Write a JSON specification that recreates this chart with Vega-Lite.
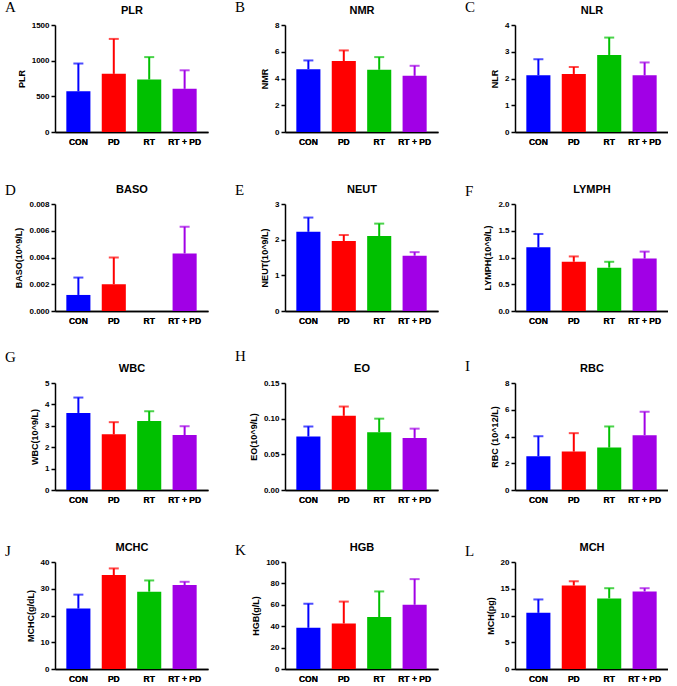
{
"$schema":"https://vega.github.io/schema/vega-lite/v6.json",
"padding":{"left":5,"top":0,"right":0,"bottom":0},
"background":"white",
"datasets":{"d":[
{"panel":"PLR","group":"CON","mean":570,"upper":960},
{"panel":"PLR","group":"PD","mean":815,"upper":1305},
{"panel":"PLR","group":"RT","mean":735,"upper":1050},
{"panel":"PLR","group":"RT + PD","mean":605,"upper":865},
{"panel":"NMR","group":"CON","mean":4.7,"upper":5.35},
{"panel":"NMR","group":"PD","mean":5.3,"upper":6.1},
{"panel":"NMR","group":"RT","mean":4.65,"upper":5.6},
{"panel":"NMR","group":"RT + PD","mean":4.2,"upper":4.95},
{"panel":"NLR","group":"CON","mean":2.12,"upper":2.72},
{"panel":"NLR","group":"PD","mean":2.17,"upper":2.43},
{"panel":"NLR","group":"RT","mean":2.88,"upper":3.53},
{"panel":"NLR","group":"RT + PD","mean":2.12,"upper":2.6},
{"panel":"BASO","group":"CON","mean":0.0012,"upper":0.0025},
{"panel":"BASO","group":"PD","mean":0.002,"upper":0.004},
{"panel":"BASO","group":"RT","mean":0},
{"panel":"BASO","group":"RT + PD","mean":0.0043,"upper":0.0063},
{"panel":"NEUT","group":"CON","mean":2.22,"upper":2.62},
{"panel":"NEUT","group":"PD","mean":1.96,"upper":2.13},
{"panel":"NEUT","group":"RT","mean":2.1,"upper":2.45},
{"panel":"NEUT","group":"RT + PD","mean":1.55,"upper":1.65},
{"panel":"LYMPH","group":"CON","mean":1.19,"upper":1.44},
{"panel":"LYMPH","group":"PD","mean":0.92,"upper":1.02},
{"panel":"LYMPH","group":"RT","mean":0.81,"upper":0.92},
{"panel":"LYMPH","group":"RT + PD","mean":0.98,"upper":1.11},
{"panel":"WBC","group":"CON","mean":3.6,"upper":4.32},
{"panel":"WBC","group":"PD","mean":2.6,"upper":3.17},
{"panel":"WBC","group":"RT","mean":3.22,"upper":3.68},
{"panel":"WBC","group":"RT + PD","mean":2.57,"upper":2.98},
{"panel":"EO","group":"CON","mean":0.075,"upper":0.089},
{"panel":"EO","group":"PD","mean":0.104,"upper":0.117},
{"panel":"EO","group":"RT","mean":0.081,"upper":0.1},
{"panel":"EO","group":"RT + PD","mean":0.073,"upper":0.086},
{"panel":"RBC","group":"CON","mean":2.52,"upper":4.02},
{"panel":"RBC","group":"PD","mean":2.87,"upper":4.25},
{"panel":"RBC","group":"RT","mean":3.17,"upper":4.75},
{"panel":"RBC","group":"RT + PD","mean":4.1,"upper":5.85},
{"panel":"MCHC","group":"CON","mean":22.6,"upper":27.8},
{"panel":"MCHC","group":"PD","mean":35.1,"upper":37.6},
{"panel":"MCHC","group":"RT","mean":28.9,"upper":33.1},
{"panel":"MCHC","group":"RT + PD","mean":31.4,"upper":32.6},
{"panel":"HGB","group":"CON","mean":38.5,"upper":61},
{"panel":"HGB","group":"PD","mean":42.5,"upper":63},
{"panel":"HGB","group":"RT","mean":48.5,"upper":72.5},
{"panel":"HGB","group":"RT + PD","mean":60,"upper":84},
{"panel":"MCH","group":"CON","mean":10.5,"upper":13},
{"panel":"MCH","group":"PD","mean":15.6,"upper":16.4},
{"panel":"MCH","group":"RT","mean":13.2,"upper":15.1},
{"panel":"MCH","group":"RT + PD","mean":14.5,"upper":15.1}
]},
"columns":3,
"spacing":{"row":72,"column":77},
"bounds":"flush",
"concat":[
{"width":153,"height":107,"data":{"name":"d"},"transform":[{"filter":"datum.panel==='PLR'"}],"title":{"text":"A","dy":15},
"encoding":{"x":{"field":"group","type":"nominal","scale":{"domain":["CON","PD","RT","RT + PD"],"paddingInner":0.32,"paddingOuter":0.32},"axis":{"title":null}},"color":{"field":"group","type":"nominal","scale":{"domain":["CON","PD","RT","RT + PD"],"range":["#0000ff","#ff0000","#00c000","#a100e6"]},"legend":null}},
"layer":[
{"mark":"bar","encoding":{"y":{"field":"mean","type":"quantitative","scale":{"domain":[0,1500],"nice":false},"axis":{"values":[0,500,1000,1500],"format":"d","labelOverlap":false,"title":"PLR"}}}},
{"mark":{"type":"rule","strokeWidth":2},"encoding":{"x":{"field":"group","type":"nominal","axis":{"orient":"top","title":"PLR","labels":false,"ticks":false,"domain":false,"titleFontSize":11,"titlePadding":10}},"y":{"field":"mean","type":"quantitative","axis":{"values":[0,500,1000,1500],"format":"d","labelOverlap":false,"title":"PLR"}},"y2":{"field":"upper"}}},
{"mark":{"type":"tick","thickness":2,"size":10},"encoding":{"y":{"field":"upper","type":"quantitative","axis":{"values":[0,500,1000,1500],"format":"d","labelOverlap":false,"title":"PLR"}}}}
],"resolve":{"axis":{"x":"independent"}}},
{"width":153,"height":107,"data":{"name":"d"},"transform":[{"filter":"datum.panel==='NMR'"}],"title":{"text":"B","dy":15},
"encoding":{"x":{"field":"group","type":"nominal","scale":{"domain":["CON","PD","RT","RT + PD"],"paddingInner":0.32,"paddingOuter":0.32},"axis":{"title":null}},"color":{"field":"group","type":"nominal","scale":{"domain":["CON","PD","RT","RT + PD"],"range":["#0000ff","#ff0000","#00c000","#a100e6"]},"legend":null}},
"layer":[
{"mark":"bar","encoding":{"y":{"field":"mean","type":"quantitative","scale":{"domain":[0,8],"nice":false},"axis":{"values":[0,2,4,6,8],"labelOverlap":false,"title":"NMR"}}}},
{"mark":{"type":"rule","strokeWidth":2},"encoding":{"x":{"field":"group","type":"nominal","axis":{"orient":"top","title":"NMR","labels":false,"ticks":false,"domain":false,"titleFontSize":11,"titlePadding":10}},"y":{"field":"mean","type":"quantitative","axis":{"values":[0,2,4,6,8],"labelOverlap":false,"title":"NMR"}},"y2":{"field":"upper"}}},
{"mark":{"type":"tick","thickness":2,"size":10},"encoding":{"y":{"field":"upper","type":"quantitative","axis":{"values":[0,2,4,6,8],"labelOverlap":false,"title":"NMR"}}}}
],"resolve":{"axis":{"x":"independent"}}},
{"width":153,"height":107,"data":{"name":"d"},"transform":[{"filter":"datum.panel==='NLR'"}],"title":{"text":"C","dy":15},
"encoding":{"x":{"field":"group","type":"nominal","scale":{"domain":["CON","PD","RT","RT + PD"],"paddingInner":0.32,"paddingOuter":0.32},"axis":{"title":null}},"color":{"field":"group","type":"nominal","scale":{"domain":["CON","PD","RT","RT + PD"],"range":["#0000ff","#ff0000","#00c000","#a100e6"]},"legend":null}},
"layer":[
{"mark":"bar","encoding":{"y":{"field":"mean","type":"quantitative","scale":{"domain":[0,4],"nice":false},"axis":{"values":[0,1,2,3,4],"labelOverlap":false,"title":"NLR"}}}},
{"mark":{"type":"rule","strokeWidth":2},"encoding":{"x":{"field":"group","type":"nominal","axis":{"orient":"top","title":"NLR","labels":false,"ticks":false,"domain":false,"titleFontSize":11,"titlePadding":10}},"y":{"field":"mean","type":"quantitative","axis":{"values":[0,1,2,3,4],"labelOverlap":false,"title":"NLR"}},"y2":{"field":"upper"}}},
{"mark":{"type":"tick","thickness":2,"size":10},"encoding":{"y":{"field":"upper","type":"quantitative","axis":{"values":[0,1,2,3,4],"labelOverlap":false,"title":"NLR"}}}}
],"resolve":{"axis":{"x":"independent"}}},
{"width":153,"height":107,"data":{"name":"d"},"transform":[{"filter":"datum.panel==='BASO'"}],"title":{"text":"D","dy":19},
"encoding":{"x":{"field":"group","type":"nominal","scale":{"domain":["CON","PD","RT","RT + PD"],"paddingInner":0.32,"paddingOuter":0.32},"axis":{"title":null}},"color":{"field":"group","type":"nominal","scale":{"domain":["CON","PD","RT","RT + PD"],"range":["#0000ff","#ff0000","#00c000","#a100e6"]},"legend":null}},
"layer":[
{"mark":"bar","encoding":{"y":{"field":"mean","type":"quantitative","scale":{"domain":[0,0.008],"nice":false},"axis":{"values":[0,0.002,0.004,0.006,0.008],"format":".3f","labelOverlap":false,"title":"BASO(10^9/L)"}}}},
{"mark":{"type":"rule","strokeWidth":2},"encoding":{"x":{"field":"group","type":"nominal","axis":{"orient":"top","title":"BASO","labels":false,"ticks":false,"domain":false,"titleFontSize":11,"titlePadding":10}},"y":{"field":"mean","type":"quantitative","axis":{"values":[0,0.002,0.004,0.006,0.008],"format":".3f","labelOverlap":false,"title":"BASO(10^9/L)"}},"y2":{"field":"upper"}}},
{"mark":{"type":"tick","thickness":2,"size":10},"encoding":{"y":{"field":"upper","type":"quantitative","axis":{"values":[0,0.002,0.004,0.006,0.008],"format":".3f","labelOverlap":false,"title":"BASO(10^9/L)"}}}}
],"resolve":{"axis":{"x":"independent"}}},
{"width":153,"height":107,"data":{"name":"d"},"transform":[{"filter":"datum.panel==='NEUT'"}],"title":{"text":"E","dy":19},
"encoding":{"x":{"field":"group","type":"nominal","scale":{"domain":["CON","PD","RT","RT + PD"],"paddingInner":0.32,"paddingOuter":0.32},"axis":{"title":null}},"color":{"field":"group","type":"nominal","scale":{"domain":["CON","PD","RT","RT + PD"],"range":["#0000ff","#ff0000","#00c000","#a100e6"]},"legend":null}},
"layer":[
{"mark":"bar","encoding":{"y":{"field":"mean","type":"quantitative","scale":{"domain":[0,3],"nice":false},"axis":{"values":[0,1,2,3],"labelOverlap":false,"title":"NEUT(10^9/L)"}}}},
{"mark":{"type":"rule","strokeWidth":2},"encoding":{"x":{"field":"group","type":"nominal","axis":{"orient":"top","title":"NEUT","labels":false,"ticks":false,"domain":false,"titleFontSize":11,"titlePadding":10}},"y":{"field":"mean","type":"quantitative","axis":{"values":[0,1,2,3],"labelOverlap":false,"title":"NEUT(10^9/L)"}},"y2":{"field":"upper"}}},
{"mark":{"type":"tick","thickness":2,"size":10},"encoding":{"y":{"field":"upper","type":"quantitative","axis":{"values":[0,1,2,3],"labelOverlap":false,"title":"NEUT(10^9/L)"}}}}
],"resolve":{"axis":{"x":"independent"}}},
{"width":153,"height":107,"data":{"name":"d"},"transform":[{"filter":"datum.panel==='LYMPH'"}],"title":{"text":"F","dy":20},
"encoding":{"x":{"field":"group","type":"nominal","scale":{"domain":["CON","PD","RT","RT + PD"],"paddingInner":0.32,"paddingOuter":0.32},"axis":{"title":null}},"color":{"field":"group","type":"nominal","scale":{"domain":["CON","PD","RT","RT + PD"],"range":["#0000ff","#ff0000","#00c000","#a100e6"]},"legend":null}},
"layer":[
{"mark":"bar","encoding":{"y":{"field":"mean","type":"quantitative","scale":{"domain":[0,2],"nice":false},"axis":{"values":[0,0.5,1,1.5,2],"format":".1f","labelOverlap":false,"title":"LYMPH(10^9/L)"}}}},
{"mark":{"type":"rule","strokeWidth":2},"encoding":{"x":{"field":"group","type":"nominal","axis":{"orient":"top","title":"LYMPH","labels":false,"ticks":false,"domain":false,"titleFontSize":11,"titlePadding":10}},"y":{"field":"mean","type":"quantitative","axis":{"values":[0,0.5,1,1.5,2],"format":".1f","labelOverlap":false,"title":"LYMPH(10^9/L)"}},"y2":{"field":"upper"}}},
{"mark":{"type":"tick","thickness":2,"size":10},"encoding":{"y":{"field":"upper","type":"quantitative","axis":{"values":[0,0.5,1,1.5,2],"format":".1f","labelOverlap":false,"title":"LYMPH(10^9/L)"}}}}
],"resolve":{"axis":{"x":"independent"}}},
{"width":153,"height":107,"data":{"name":"d"},"transform":[{"filter":"datum.panel==='WBC'"}],"title":{"text":"G","dy":7},
"encoding":{"x":{"field":"group","type":"nominal","scale":{"domain":["CON","PD","RT","RT + PD"],"paddingInner":0.32,"paddingOuter":0.32},"axis":{"title":null}},"color":{"field":"group","type":"nominal","scale":{"domain":["CON","PD","RT","RT + PD"],"range":["#0000ff","#ff0000","#00c000","#a100e6"]},"legend":null}},
"layer":[
{"mark":"bar","encoding":{"y":{"field":"mean","type":"quantitative","scale":{"domain":[0,5],"nice":false},"axis":{"values":[0,1,2,3,4,5],"labelOverlap":false,"title":"WBC(10^9/L)"}}}},
{"mark":{"type":"rule","strokeWidth":2},"encoding":{"x":{"field":"group","type":"nominal","axis":{"orient":"top","title":"WBC","labels":false,"ticks":false,"domain":false,"titleFontSize":11,"titlePadding":10}},"y":{"field":"mean","type":"quantitative","axis":{"values":[0,1,2,3,4,5],"labelOverlap":false,"title":"WBC(10^9/L)"}},"y2":{"field":"upper"}}},
{"mark":{"type":"tick","thickness":2,"size":10},"encoding":{"y":{"field":"upper","type":"quantitative","axis":{"values":[0,1,2,3,4,5],"labelOverlap":false,"title":"WBC(10^9/L)"}}}}
],"resolve":{"axis":{"x":"independent"}}},
{"width":153,"height":107,"data":{"name":"d"},"transform":[{"filter":"datum.panel==='EO'"}],"title":{"text":"H","dy":6},
"encoding":{"x":{"field":"group","type":"nominal","scale":{"domain":["CON","PD","RT","RT + PD"],"paddingInner":0.32,"paddingOuter":0.32},"axis":{"title":null}},"color":{"field":"group","type":"nominal","scale":{"domain":["CON","PD","RT","RT + PD"],"range":["#0000ff","#ff0000","#00c000","#a100e6"]},"legend":null}},
"layer":[
{"mark":"bar","encoding":{"y":{"field":"mean","type":"quantitative","scale":{"domain":[0,0.15],"nice":false},"axis":{"values":[0,0.05,0.1,0.15],"format":".2f","labelOverlap":false,"title":"EO(10^9/L)"}}}},
{"mark":{"type":"rule","strokeWidth":2},"encoding":{"x":{"field":"group","type":"nominal","axis":{"orient":"top","title":"EO","labels":false,"ticks":false,"domain":false,"titleFontSize":11,"titlePadding":10}},"y":{"field":"mean","type":"quantitative","axis":{"values":[0,0.05,0.1,0.15],"format":".2f","labelOverlap":false,"title":"EO(10^9/L)"}},"y2":{"field":"upper"}}},
{"mark":{"type":"tick","thickness":2,"size":10},"encoding":{"y":{"field":"upper","type":"quantitative","axis":{"values":[0,0.05,0.1,0.15],"format":".2f","labelOverlap":false,"title":"EO(10^9/L)"}}}}
],"resolve":{"axis":{"x":"independent"}}},
{"width":153,"height":107,"data":{"name":"d"},"transform":[{"filter":"datum.panel==='RBC'"}],"title":{"text":"I","dy":16},
"encoding":{"x":{"field":"group","type":"nominal","scale":{"domain":["CON","PD","RT","RT + PD"],"paddingInner":0.32,"paddingOuter":0.32},"axis":{"title":null}},"color":{"field":"group","type":"nominal","scale":{"domain":["CON","PD","RT","RT + PD"],"range":["#0000ff","#ff0000","#00c000","#a100e6"]},"legend":null}},
"layer":[
{"mark":"bar","encoding":{"y":{"field":"mean","type":"quantitative","scale":{"domain":[0,8],"nice":false},"axis":{"values":[0,2,4,6,8],"labelOverlap":false,"title":"RBC (10^12/L)"}}}},
{"mark":{"type":"rule","strokeWidth":2},"encoding":{"x":{"field":"group","type":"nominal","axis":{"orient":"top","title":"RBC","labels":false,"ticks":false,"domain":false,"titleFontSize":11,"titlePadding":10}},"y":{"field":"mean","type":"quantitative","axis":{"values":[0,2,4,6,8],"labelOverlap":false,"title":"RBC (10^12/L)"}},"y2":{"field":"upper"}}},
{"mark":{"type":"tick","thickness":2,"size":10},"encoding":{"y":{"field":"upper","type":"quantitative","axis":{"values":[0,2,4,6,8],"labelOverlap":false,"title":"RBC (10^12/L)"}}}}
],"resolve":{"axis":{"x":"independent"}}},
{"width":153,"height":107,"data":{"name":"d"},"transform":[{"filter":"datum.panel==='MCHC'"}],"title":{"text":"J","dy":22},
"encoding":{"x":{"field":"group","type":"nominal","scale":{"domain":["CON","PD","RT","RT + PD"],"paddingInner":0.32,"paddingOuter":0.32},"axis":{"title":null}},"color":{"field":"group","type":"nominal","scale":{"domain":["CON","PD","RT","RT + PD"],"range":["#0000ff","#ff0000","#00c000","#a100e6"]},"legend":null}},
"layer":[
{"mark":"bar","encoding":{"y":{"field":"mean","type":"quantitative","scale":{"domain":[0,40],"nice":false},"axis":{"values":[0,10,20,30,40],"labelOverlap":false,"title":"MCHC(g/dL)"}}}},
{"mark":{"type":"rule","strokeWidth":2},"encoding":{"x":{"field":"group","type":"nominal","axis":{"orient":"top","title":"MCHC","labels":false,"ticks":false,"domain":false,"titleFontSize":11,"titlePadding":10}},"y":{"field":"mean","type":"quantitative","axis":{"values":[0,10,20,30,40],"labelOverlap":false,"title":"MCHC(g/dL)"}},"y2":{"field":"upper"}}},
{"mark":{"type":"tick","thickness":2,"size":10},"encoding":{"y":{"field":"upper","type":"quantitative","axis":{"values":[0,10,20,30,40],"labelOverlap":false,"title":"MCHC(g/dL)"}}}}
],"resolve":{"axis":{"x":"independent"}}},
{"width":153,"height":107,"data":{"name":"d"},"transform":[{"filter":"datum.panel==='HGB'"}],"title":{"text":"K","dy":21},
"encoding":{"x":{"field":"group","type":"nominal","scale":{"domain":["CON","PD","RT","RT + PD"],"paddingInner":0.32,"paddingOuter":0.32},"axis":{"title":null}},"color":{"field":"group","type":"nominal","scale":{"domain":["CON","PD","RT","RT + PD"],"range":["#0000ff","#ff0000","#00c000","#a100e6"]},"legend":null}},
"layer":[
{"mark":"bar","encoding":{"y":{"field":"mean","type":"quantitative","scale":{"domain":[0,100],"nice":false},"axis":{"values":[0,20,40,60,80,100],"labelOverlap":false,"title":"HGB(g/L)"}}}},
{"mark":{"type":"rule","strokeWidth":2},"encoding":{"x":{"field":"group","type":"nominal","axis":{"orient":"top","title":"HGB","labels":false,"ticks":false,"domain":false,"titleFontSize":11,"titlePadding":10}},"y":{"field":"mean","type":"quantitative","axis":{"values":[0,20,40,60,80,100],"labelOverlap":false,"title":"HGB(g/L)"}},"y2":{"field":"upper"}}},
{"mark":{"type":"tick","thickness":2,"size":10},"encoding":{"y":{"field":"upper","type":"quantitative","axis":{"values":[0,20,40,60,80,100],"labelOverlap":false,"title":"HGB(g/L)"}}}}
],"resolve":{"axis":{"x":"independent"}}},
{"width":153,"height":107,"data":{"name":"d"},"transform":[{"filter":"datum.panel==='MCH'"}],"title":{"text":"L","dy":22},
"encoding":{"x":{"field":"group","type":"nominal","scale":{"domain":["CON","PD","RT","RT + PD"],"paddingInner":0.32,"paddingOuter":0.32},"axis":{"title":null}},"color":{"field":"group","type":"nominal","scale":{"domain":["CON","PD","RT","RT + PD"],"range":["#0000ff","#ff0000","#00c000","#a100e6"]},"legend":null}},
"layer":[
{"mark":"bar","encoding":{"y":{"field":"mean","type":"quantitative","scale":{"domain":[0,20],"nice":false},"axis":{"values":[0,5,10,15,20],"labelOverlap":false,"title":"MCH(pg)"}}}},
{"mark":{"type":"rule","strokeWidth":2},"encoding":{"x":{"field":"group","type":"nominal","axis":{"orient":"top","title":"MCH","labels":false,"ticks":false,"domain":false,"titleFontSize":11,"titlePadding":10}},"y":{"field":"mean","type":"quantitative","axis":{"values":[0,5,10,15,20],"labelOverlap":false,"title":"MCH(pg)"}},"y2":{"field":"upper"}}},
{"mark":{"type":"tick","thickness":2,"size":10},"encoding":{"y":{"field":"upper","type":"quantitative","axis":{"values":[0,5,10,15,20],"labelOverlap":false,"title":"MCH(pg)"}}}}
],"resolve":{"axis":{"x":"independent"}}}
],
"config":{
"view":{"stroke":null},
"font":"Liberation Sans",
"axis":{"grid":false,"domainColor":"black","domainWidth":1.5,"tickColor":"black","tickWidth":1.5,"tickSize":4,"labelFont":"Liberation Sans","labelFontWeight":"bold","labelFontSize":8,"labelColor":"black","labelPadding":2,"titleFont":"Liberation Sans","titleFontWeight":"bold","titleFontSize":9,"titleColor":"black","titlePadding":5},
"axisBottom":{"labelAngle":0,"ticks":false,"labelPadding":5,"labelFontSize":8.5},
"title":{"font":"Liberation Serif","fontWeight":"normal","fontSize":15,"color":"black","anchor":"start","frame":"group","dx":-50,"offset":0}
}
}
